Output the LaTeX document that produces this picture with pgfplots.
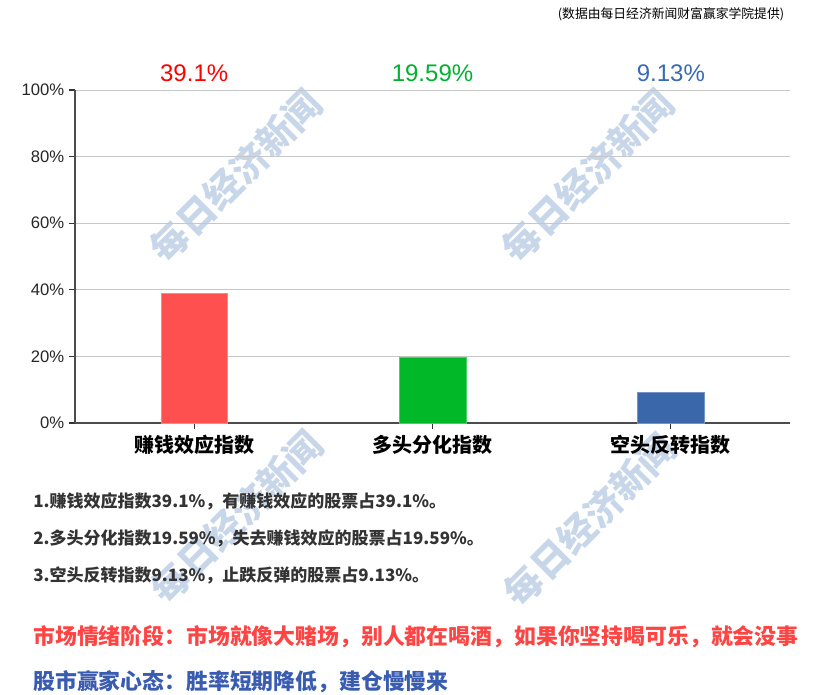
\documentclass[border=0pt]{standalone}
\usepackage{pgfplots}
\pgfplotsset{compat=1.18}
\usepackage{fontspec}
\setmainfont{Liberation Sans}
\newfontfamily\cjk{Noto Sans CJK SC}

\definecolor{barred}{RGB}{255,80,80}
\definecolor{bargreen}{RGB}{0,184,40}
\definecolor{barblue}{RGB}{58,102,170}
\definecolor{valred}{RGB}{255,0,0}
\definecolor{valgreen}{RGB}{0,176,48}
\definecolor{valblue}{RGB}{58,106,176}
\definecolor{txtdark}{RGB}{51,51,51}
\definecolor{linered}{RGB}{255,68,68}
\definecolor{lineblue}{RGB}{58,92,176}
\definecolor{wmark}{RGB}{200,214,234}

\begin{document}
\begin{tikzpicture}
% pixel grid of the reference: 1px = 0.75pt, y downward
\begin{scope}[x=0.75pt,y=-0.75pt]
\path[use as bounding box] (0,0) rectangle (814,695);
\foreach \cx/\cy in {236/176,588/176,237/517,590/520}{
  \node[rotate=45,text=wmark,font=\cjk\bfseries\fontsize{28}{28}\selectfont] at (\cx,\cy) {每日经济新闻};
}
\node[font=\cjk\fontsize{9.6}{9.6}\selectfont] at (671,14) {(数据由每日经济新闻财富赢家学院提供)};
\end{scope}

\begin{axis}[
  at={(56.25pt,-317.25pt)}, anchor=south west,
  scale only axis, width=536.25pt, height=249.75pt,
  xmin=-0.5, xmax=2.5, ymin=0, ymax=100,
  ybar, bar width=0.28,
  axis x line*=bottom, axis y line*=left,
  axis line style={draw=black!70, line width=0.9pt},
  ytick={0,20,...,100},
  yticklabel={\pgfmathprintnumber{\tick}\%},
  xtick={0,1,2},
  xticklabels={赚钱效应指数,多头分化指数,空头反转指数},
  x tick label style={font=\cjk\bfseries\fontsize{15}{15}\selectfont, yshift=-1pt},
  y tick label style={font=\fontsize{12.5}{12.5}\selectfont, text=black!85},
  /pgf/number format/assume math mode=true,
  tick align=outside, major tick length=4.5pt,
  tick style={black!80, line width=0.8pt},
  ymajorgrids, grid style={black!22, line width=0.7pt},
  clip=false,
]
\addplot[bar shift=0pt, fill=barred, draw=barred!70!white] coordinates {(0,39.1)};
\addplot[bar shift=0pt, fill=bargreen, draw=bargreen!70!white] coordinates {(1,19.59)};
\addplot[bar shift=0pt, fill=barblue, draw=barblue!70!white] coordinates {(2,9.13)};
\node[text=valred, font=\fontsize{18}{18}\selectfont] at (axis cs:0,105.1) {39.1\%};
\node[text=valgreen, font=\fontsize{18}{18}\selectfont] at (axis cs:1,105.1) {19.59\%};
\node[text=valblue, font=\fontsize{18}{18}\selectfont] at (axis cs:2,105.1) {9.13\%};
\end{axis}

\begin{scope}[x=0.75pt,y=-0.75pt,every node/.style={anchor=west, inner sep=0pt}]
\node[text=txtdark, font=\cjk\bfseries\fontsize{12.75}{12.75}\selectfont] at (33,501) {1.赚钱效应指数39.1\%，有赚钱效应的股票占39.1\%。};
\node[text=txtdark, font=\cjk\bfseries\fontsize{12.75}{12.75}\selectfont] at (33,538) {2.多头分化指数19.59\%，失去赚钱效应的股票占19.59\%。};
\node[text=txtdark, font=\cjk\bfseries\fontsize{12.75}{12.75}\selectfont] at (33,575) {3.空头反转指数9.13\%，止跌反弹的股票占9.13\%。};
\node[text=linered, font=\cjk\bfseries\fontsize{16.4}{16.4}\selectfont] at (33,637) {市场情绪阶段：市场就像大赌场，别人都在喝酒，如果你坚持喝可乐，就会没事};
\node[text=lineblue, font=\cjk\bfseries\fontsize{16.4}{16.4}\selectfont] at (33,682) {股市赢家心态：胜率短期降低，建仓慢慢来};
\end{scope}
\end{tikzpicture}
\end{document}
